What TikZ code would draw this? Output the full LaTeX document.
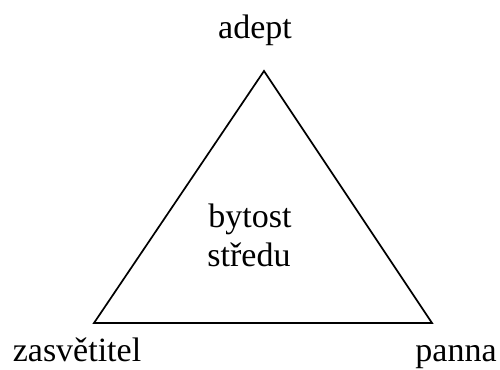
\documentclass[tikz,border=0pt]{standalone}
\usepackage{fontspec}
\setmainfont{Liberation Serif}
\begin{document}
\begin{tikzpicture}[x=1pt,y=-1pt,
  lbl/.style={font=\fontsize{34}{40}\selectfont, inner sep=0pt, anchor=base},
  edge/.style={line width=1.7pt, line join=miter}]
\useasboundingbox (0,0) rectangle (500,369);
\coordinate (A) at (264,71);
\coordinate (B) at (94,323);
\coordinate (C) at (432,323);
\draw[edge] (A) -- (B) -- (C) -- cycle;
\node[lbl] (adept) at (255,38) {adept};
\node[lbl] (zas) at (77,361) {zasvětitel};
\node[lbl] (panna) at (456,361) {panna};
\node[lbl] (b1) at (250,227) {bytost};
\node[lbl] (b2) at (249,266) {středu};
\end{tikzpicture}
\end{document}
